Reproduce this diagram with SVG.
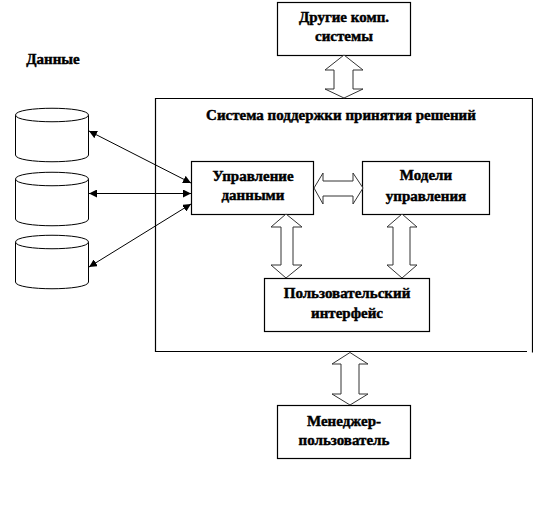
<svg xmlns="http://www.w3.org/2000/svg" width="533" height="515" viewBox="0 0 533 515">
<defs>
<marker id="ah" viewBox="0 0 10 10" refX="10" refY="5" markerWidth="8" markerHeight="8" markerUnits="userSpaceOnUse" orient="auto-start-reverse"><path d="M0 0L10 5L0 10Z" fill="#000"/></marker>
</defs>
<style>
rect{fill:#fff;stroke:#000;stroke-width:1.2}
.cyl{fill:#fff;stroke:#000;stroke-width:1}
.da{fill:#fff;stroke:#333;stroke-width:1}
.ln{stroke:#000;stroke-width:1;fill:none;marker-start:url(#ah);marker-end:url(#ah)}
text{font-family:"Liberation Serif","Times New Roman",serif;font-size:15px;font-weight:bold;text-anchor:middle;fill:#000;stroke:#000;stroke-width:.45}
</style>
<rect width="533" height="515" style="fill:#fff;stroke:none"/>
<g id="system"><path d="M155.500 352V98.500H532.500V352.500M155.500 351.500H527" fill="none" stroke="#000" stroke-width="1.200"/><text x="341" y="120">Система поддержки принятия решений</text></g>
<g id="other"><rect x="277.500" y="2.500" width="133" height="53"/><text x="344" y="22">Другие комп.</text><text x="344" y="41">системы</text></g>
<g id="data-label"><text x="53" y="64">Данные</text></g>
<g id="db1"><path class="cyl" d="M15.500 115C15.500 106 88.500 106 88.500 115V155C88.500 164 15.500 164 15.500 155Z"/><path class="cyl" d="M15.500 115C15.500 124 88.500 124 88.500 115"/></g>
<g id="db2"><path class="cyl" d="M15.500 179C15.500 170 88.500 170 88.500 179V219C88.500 228 15.500 228 15.500 219Z"/><path class="cyl" d="M15.500 179C15.500 188 88.500 188 88.500 179"/></g>
<g id="db3"><path class="cyl" d="M15.500 242C15.500 233 88.500 233 88.500 242V282C88.500 291 15.500 291 15.500 282Z"/><path class="cyl" d="M15.500 242C15.500 251 88.500 251 88.500 242"/></g>
<g id="data-mgmt"><rect x="191.500" y="161.500" width="122" height="53"/><text x="253" y="181">Управление</text><text x="253" y="200">данными</text></g>
<g id="models"><rect x="362.500" y="161.500" width="127" height="53"/><text x="426" y="180">Модели</text><text x="426" y="201">управления</text></g>
<g id="ui"><rect x="264.500" y="278.500" width="165" height="53"/><text x="347" y="298">Пользовательский</text><text x="347" y="318">интерфейс</text></g>
<g id="manager"><rect x="277.500" y="405.500" width="133" height="53"/><text x="344" y="426">Менеджер-</text><text x="344" y="445">пользователь</text></g>
<g id="connectors">
<path class="ln" d="M89 131L191 183"/>
<path class="ln" d="M89 193.500H191"/>
<path class="ln" d="M89 267L191 204"/>
<path class="da" d="M344 55L363 70H353V89H363L344 98L325 89H334V70H325Z"/>
<path class="da" d="M350 352.500L368 364H359V394H368L350 405L332 394H341V364H332Z"/>
<path class="da" d="M314 188L323 173V181H353V173L363 188L353 204V196H323V204Z"/>
<path class="da" d="M286 214L302 227H293V265H302L286 278L271 265H281V227H271Z"/>
<path class="da" d="M402 214L417 227H410V265H417L402 278L387 265H393V227H387Z"/>
</g>
</svg>
